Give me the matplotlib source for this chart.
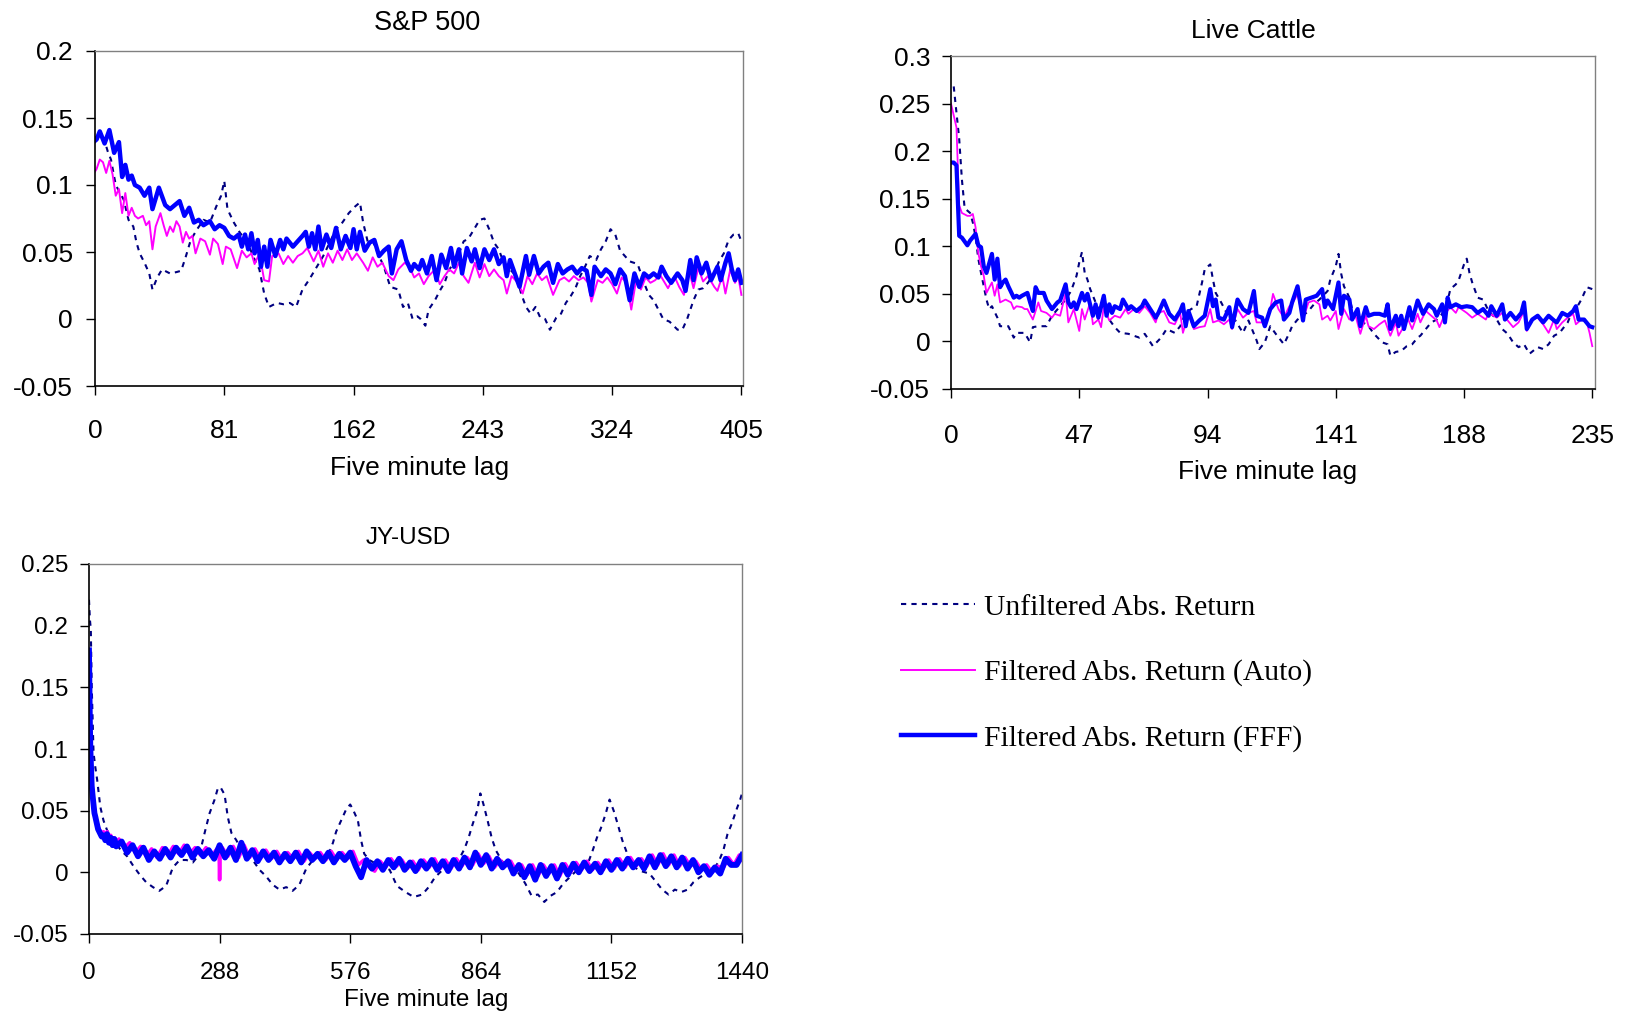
import numpy as np
import matplotlib
matplotlib.use("Agg")
import matplotlib.pyplot as plt

plt.rcParams['font.family'] = ['Liberation Sans', 'DejaVu Sans']

# series labels
labels = ["Unfiltered Abs. Return", "Filtered Abs. Return (Auto)", "Filtered Abs. Return (FFF)"]

# ---- S&P 500 (lag, value) ----
sp_unf = [(0, .135), (3, .138), (6, .133), (8, .125), (10, .119), (13, .100), (18, .089), (21, .074),
          (24, .069), (26, .057), (28, .049), (31, .042), (34, .034), (36, .022), (39, .031), (42, .037),
          (47, .034), (51, .035), (54, .036), (57, .047), (60, .059), (64, .067), (68, .074), (72, .072),
          (76, .084), (79, .092), (81, .103), (83, .082), (87, .072), (91, .064), (95, .059), (99, .047),
          (103, .037), (106, .019), (109, .009), (114, .012), (118, .011), (122, .012), (126, .009),
          (130, .022), (134, .029), (139, .039), (143, .047), (147, .057), (151, .067), (155, .072),
          (159, .079), (163, .084), (166, .087), (168, .072), (171, .057), (174, .058), (178, .047),
          (181, .039), (185, .024), (190, .022), (193, .009), (196, .012), (199, .000), (202, .002),
          (204, .000), (207, -.005), (209, .007), (213, .014), (216, .021), (219, .027), (222, .037),
          (225, .042), (228, .049), (231, .058), (234, .060), (238, .068), (241, .074), (244, .075),
          (247, .067), (250, .057), (253, .052), (256, .042), (260, .037), (264, .032), (267, .019),
          (270, .009), (273, .004), (276, .009), (279, .001), (282, .000), (285, -.008), (289, .001),
          (292, .004), (295, .012), (298, .017), (301, .023), (304, .032), (307, .039), (310, .047),
          (314, .044), (317, .052), (320, .058), (323, .067), (326, .063), (329, .051), (332, .047),
          (335, .043), (340, .041), (344, .027), (347, .018), (350, .014), (353, .007), (356, .000),
          (360, -.002), (365, -.008), (368, -.008), (371, .000), (373, .007), (375, .014), (378, .022),
          (381, .023), (384, .027), (388, .034), (391, .043), (394, .049), (397, .059), (400, .063),
          (403, .064), (405, .058)]

sp_auto = [(0, .110), (1, .112), (3, .119), (5, .117), (7, .109), (9, .118), (11, .108), (13, .092),
           (15, .097), (17, .079), (19, .094), (21, .077), (23, .083), (25, .077), (27, .075), (30, .077),
           (32, .070), (34, .073), (36, .052), (38, .069), (41, .079), (43, .070), (45, .062), (47, .069),
           (49, .065), (51, .073), (53, .069), (55, .057), (57, .065), (59, .060), (61, .062), (63, .049),
           (66, .060), (69, .058), (72, .048), (74, .060), (77, .056), (80, .041), (82, .054), (85, .052),
           (89, .038), (92, .051), (95, .046), (98, .049), (100, .041), (103, .049), (106, .029),
           (109, .028), (111, .047), (115, .049), (118, .041), (121, .047), (124, .042), (127, .047),
           (130, .049), (133, .053), (137, .043), (140, .051), (143, .039), (146, .049), (149, .042),
           (152, .051), (155, .044), (158, .052), (161, .044), (164, .049), (168, .042), (171, .036),
           (174, .046), (177, .039), (180, .042), (184, .032), (187, .029), (190, .037), (194, .042),
           (197, .039), (200, .031), (203, .034), (206, .026), (209, .032), (213, .037), (216, .026),
           (219, .032), (222, .037), (225, .034), (228, .042), (231, .032), (234, .027), (238, .042),
           (241, .031), (244, .041), (247, .032), (250, .037), (253, .032), (256, .029), (258, .019),
           (261, .032), (265, .027), (268, .019), (271, .032), (274, .026), (277, .034), (280, .029),
           (283, .032), (287, .018), (291, .029), (294, .031), (297, .028), (300, .032), (303, .029),
           (306, .031), (309, .027), (311, .013), (315, .029), (318, .027), (321, .031), (324, .026),
           (327, .019), (330, .031), (333, .027), (336, .007), (339, .029), (342, .022), (345, .031),
           (348, .027), (351, .029), (354, .033), (357, .027), (359, .023), (363, .032), (366, .024),
           (369, .018), (372, .037), (375, .023), (378, .038), (381, .028), (384, .032), (388, .024),
           (390, .021), (393, .032), (395, .019), (398, .037), (401, .027), (403, .032), (405, .018)]

sp_fff = [(0, .133), (1, .134), (3, .140), (6, .131), (9, .141), (12, .124), (15, .132), (17, .106),
          (19, .115), (21, .104), (23, .107), (25, .100), (28, .098), (31, .092), (34, .098), (36, .082),
          (40, .098), (44, .085), (47, .082), (50, .085), (53, .088), (56, .077), (59, .083), (62, .072),
          (65, .074), (68, .070), (72, .073), (75, .067), (78, .070), (81, .068), (84, .062), (87, .060),
          (90, .063), (92, .054), (94, .063), (96, .052), (98, .064), (100, .049), (102, .059),
          (104, .039), (106, .054), (108, .039), (110, .059), (113, .047), (116, .059), (118, .052),
          (120, .060), (124, .054), (127, .058), (130, .062), (132, .065), (134, .054), (136, .064),
          (138, .052), (140, .069), (142, .052), (145, .063), (148, .053), (151, .068), (154, .052),
          (157, .062), (160, .053), (162, .067), (164, .052), (166, .065), (169, .051), (172, .057),
          (175, .059), (178, .047), (181, .051), (184, .054), (186, .034), (189, .052), (192, .058),
          (195, .044), (198, .036), (200, .041), (203, .037), (205, .044), (208, .034), (211, .047),
          (214, .029), (217, .048), (220, .038), (223, .053), (225, .039), (228, .052), (230, .034),
          (233, .053), (236, .043), (238, .052), (241, .038), (244, .052), (247, .044), (250, .052),
          (253, .041), (256, .046), (258, .032), (260, .044), (263, .034), (266, .024), (270, .047),
          (272, .033), (275, .047), (278, .034), (281, .039), (284, .042), (287, .027), (290, .041),
          (293, .034), (296, .037), (299, .039), (302, .034), (305, .038), (308, .036), (311, .018),
          (313, .039), (317, .032), (320, .037), (323, .034), (326, .026), (329, .037), (332, .032),
          (335, .014), (338, .034), (341, .024), (344, .034), (347, .031), (350, .034), (353, .031),
          (355, .039), (358, .032), (361, .027), (365, .034), (368, .029), (370, .021), (373, .044),
          (375, .029), (377, .046), (380, .034), (383, .042), (386, .029), (390, .039), (392, .029),
          (395, .042), (397, .049), (399, .037), (401, .029), (403, .037), (405, .027)]

# ---- Live Cattle ----
lc_unf = [(1, .268), (2, .241), (3, .213), (4, .170), (5, .140), (7, .135), (8, .125), (9, .110),
          (10, .087), (11, .072), (12, .058), (13, .044), (14, .034), (15, .037), (17, .025), (18, .016),
          (21, .016), (23, .004), (24, .009), (27, .009), (29, -.001), (30, .015), (32, .016), (35, .016),
          (37, .027), (40, .037), (42, .044), (44, .053), (46, .069), (47, .083), (48, .094), (49, .072),
          (50, .065), (51, .055), (52, .048), (54, .034), (56, .034), (58, .023), (60, .015), (62, .009),
          (65, .008), (67, .006), (69, .004), (71, .008), (74, -.005), (77, .004), (79, .013), (82, .009),
          (84, .016), (86, .030), (88, .034), (90, .037), (92, .062), (93, .076), (95, .081), (96, .065),
          (97, .051), (99, .041), (101, .030), (102, .027), (104, .023), (107, .009), (109, .022),
          (112, .001), (113, -.008), (115, -.001), (117, .016), (119, .008), (122, -.003), (124, .009),
          (125, .016), (127, .023), (129, .027), (131, .032), (133, .039), (135, .044), (138, .053),
          (139, .065), (141, .079), (142, .092), (143, .071), (144, .058), (146, .046), (147, .034),
          (149, .027), (151, .020), (153, .016), (155, .008), (158, -.001), (160, -.003), (161, -.015),
          (163, -.011), (165, -.010), (167, -.005), (169, -.003), (171, .004), (172, .006), (174, .013),
          (176, .020), (178, .023), (180, .029), (182, .043), (183, .055), (185, .060), (186, .064),
          (188, .081), (189, .087), (190, .072), (191, .062), (193, .046), (195, .044), (197, .032),
          (200, .023), (202, .013), (204, .008), (206, -.001), (208, -.006), (210, -.003), (212, -.013),
          (215, -.006), (217, -.008), (219, -.003), (221, .006), (223, .009), (226, .020), (227, .027),
          (229, .034), (231, .044), (233, .057), (235, .055)]

lc_auto = [(0, .250), (2, .225), (3, .143), (4, .135), (6, .132), (7, .132), (8, .134), (9, .120),
           (10, .093), (11, .079), (12, .069), (13, .051), (15, .062), (16, .048), (17, .060), (18, .041),
           (20, .044), (22, .041), (23, .034), (24, .037), (26, .036), (27, .034), (28, .034), (30, .023),
           (32, .041), (33, .032), (35, .030), (37, .025), (38, .029), (40, .027), (42, .051), (43, .020),
           (45, .034), (47, .011), (48, .034), (49, .023), (51, .041), (52, .018), (54, .023), (55, .015),
           (56, .037), (58, .022), (60, .027), (62, .025), (64, .034), (65, .029), (67, .034), (69, .030),
           (71, .037), (73, .030), (75, .020), (76, .030), (78, .032), (80, .020), (82, .018), (84, .030),
           (85, .009), (87, .029), (89, .013), (91, .015), (93, .016), (95, .034), (96, .020), (98, .022),
           (100, .018), (102, .023), (103, .013), (105, .034), (107, .025), (109, .030), (111, .032),
           (112, .020), (114, .020), (116, .023), (117, .034), (118, .050), (120, .034), (122, .025),
           (124, .037), (125, .039), (127, .050), (129, .023), (131, .041), (133, .043), (135, .039),
           (136, .023), (138, .027), (139, .022), (141, .032), (142, .013), (144, .034), (146, .023),
           (148, .030), (150, .008), (152, .027), (153, .016), (155, .013), (157, .018), (159, .022),
           (161, .006), (163, .020), (164, .006), (166, .016), (167, .027), (169, .013), (171, .029),
           (172, .020), (174, .032), (176, .027), (178, .022), (179, .015), (181, .029), (183, .036),
           (185, .030), (186, .036), (189, .030), (191, .025), (193, .029), (196, .023), (197, .030),
           (200, .025), (202, .030), (204, .022), (206, .015), (208, .020), (210, .032), (211, .011),
           (213, .023), (215, .025), (217, .018), (219, .009), (221, .023), (222, .013), (224, .020),
           (226, .025), (228, .029), (229, .018), (231, .023), (233, .020), (234, .009), (235, -.005)]

lc_fff = [(0, .188), (1, .188), (2, .185), (3, .111), (4, .109), (6, .101), (7, .106), (9, .113),
          (10, .101), (11, .099), (12, .079), (13, .072), (15, .092), (16, .065), (17, .087), (18, .057),
          (19, .062), (20, .065), (21, .058), (23, .046), (24, .048), (25, .046), (26, .048), (28, .051),
          (29, .041), (30, .032), (31, .057), (32, .051), (34, .051), (35, .043), (37, .034), (39, .041),
          (40, .043), (42, .060), (43, .041), (44, .036), (45, .041), (46, .034), (48, .051), (49, .043),
          (50, .050), (52, .027), (53, .039), (54, .025), (56, .048), (57, .027), (58, .039), (59, .030),
          (60, .037), (62, .034), (63, .044), (65, .034), (66, .037), (68, .032), (70, .037), (71, .043),
          (73, .034), (75, .025), (76, .030), (78, .043), (80, .029), (82, .023), (84, .032), (85, .039),
          (86, .016), (87, .032), (89, .016), (91, .022), (93, .027), (95, .055), (96, .037), (97, .044),
          (98, .025), (100, .023), (102, .036), (103, .015), (105, .044), (107, .034), (109, .030),
          (111, .053), (112, .027), (114, .025), (115, .016), (117, .034), (119, .041), (121, .043),
          (122, .023), (124, .030), (125, .041), (127, .058), (129, .022), (130, .044), (132, .046),
          (134, .048), (136, .055), (137, .036), (138, .043), (140, .034), (142, .062), (143, .029),
          (144, .048), (146, .044), (147, .023), (149, .034), (150, .016), (152, .036), (153, .027),
          (155, .029), (157, .029), (159, .027), (160, .039), (161, .013), (163, .027), (164, .016),
          (165, .027), (166, .013), (168, .036), (169, .022), (171, .043), (173, .029), (175, .039),
          (177, .034), (178, .027), (180, .039), (181, .020), (182, .046), (183, .036), (185, .039),
          (187, .036), (189, .037), (191, .036), (193, .030), (195, .034), (197, .027), (198, .037),
          (200, .027), (202, .039), (203, .023), (205, .030), (207, .023), (209, .030), (210, .041),
          (211, .013), (213, .023), (215, .027), (217, .020), (219, .027), (221, .022), (222, .020),
          (224, .030), (226, .027), (228, .032), (229, .037), (230, .023), (232, .023), (234, .016),
          (235, .015)]

# ---- JY-USD ----
jy_unf = [(0, .221), (2, .205), (4, .197), (6, .151), (10, .097), (14, .085), (18, .075), (25, .053),
          (32, .042), (40, .034), (55, .026), (70, .018), (84, .013), (98, .005), (112, -.002),
          (126, -.008), (141, -.012), (155, -.015), (170, -.011), (177, -.004), (185, .004), (200, .010),
          (215, .010), (229, .008), (244, .015), (255, .032), (266, .048), (277, .059), (284, .068),
          (290, .069), (299, .063), (306, .045), (314, .032), (325, .026), (336, .018), (347, .015),
          (361, .010), (376, .002), (390, -.003), (405, -.010), (420, -.014), (435, -.012), (449, -.015),
          (464, -.010), (479, .003), (494, .010), (508, .015), (523, .010), (538, .024), (545, .033),
          (556, .042), (567, .051), (576, .055), (582, .051), (593, .042), (600, .026), (607, .015),
          (618, .010), (633, .007), (648, .005), (663, .002), (679, -.011), (698, -.016), (716, -.020),
          (735, -.018), (749, -.012), (763, -.004), (777, .001), (791, .004), (805, .007), (818, .012),
          (828, .019), (837, .028), (846, .039), (856, .050), (863, .064), (870, .055), (879, .042),
          (888, .028), (897, .018), (911, .009), (930, .004), (948, -.001), (962, -.009), (976, -.019),
          (990, -.018), (1004, -.024), (1018, -.019), (1032, -.016), (1046, -.009), (1060, -.004),
          (1074, .001), (1088, .004), (1102, .009), (1111, .018), (1120, .028), (1129, .036),
          (1139, .047), (1148, .059), (1157, .050), (1166, .039), (1176, .026), (1190, .012),
          (1203, .004), (1217, .001), (1236, -.001), (1249, -.007), (1264, -.014), (1278, -.018),
          (1292, -.014), (1306, -.016), (1320, -.014), (1333, -.008), (1347, -.004), (1361, -.001),
          (1375, .001), (1389, .009), (1399, .018), (1408, .031), (1417, .039), (1427, .050),
          (1436, .059), (1440, .064)]

jy_auto = [(0, .178), (1, .150), (2, .122), (3, .102), (4, .088), (5, .078), (6, .070), (8, .060),
           (10, .054), (12, .050), (14, .046), (17, .041), (20, .037), (24, .034), (28, .031), (32, .033),
           (36, .029), (40, .033), (44, .027), (48, .030), (52, .025), (56, .028), (60, .024), (66, .027),
           (78, .020), (90, .024), (102, .016), (114, .021), (126, .013), (138, .019), (150, .012),
           (162, .020), (174, .014), (186, .021), (198, .015), (210, .022), (222, .015), (234, .020),
           (246, .014), (258, .020), (270, .013), (282, .019), (287, .016), (288, -.006), (289, .015),
           (294, .020), (306, .013), (318, .021), (330, .012), (342, .022), (354, .012), (366, .019),
           (378, .011), (390, .018), (402, .011), (414, .017), (426, .010), (438, .016), (450, .011),
           (462, .017), (474, .009), (486, .016), (498, .011), (510, .016), (522, .010), (534, .017),
           (546, .010), (558, .016), (570, .011), (582, .017), (594, .006), (606, .010), (618, .004),
           (630, .001), (642, .009), (654, .004), (666, .011), (678, .005), (690, .010), (702, .003),
           (714, .009), (726, .002), (738, .010), (750, .004), (762, .011), (774, .003), (786, .010),
           (798, .003), (810, .011), (822, .005), (834, .012), (846, .006), (858, .015), (870, .007),
           (882, .013), (894, .004), (906, .010), (918, .005), (930, .009), (942, .001), (954, .006),
           (966, -.002), (978, .006), (990, -.003), (1002, .006), (1014, -.001), (1026, .006),
           (1038, -.003), (1050, .007), (1062, .000), (1074, .008), (1086, .002), (1098, .009),
           (1110, .002), (1122, .008), (1134, .002), (1146, .010), (1158, .003), (1170, .011),
           (1182, .004), (1194, .012), (1206, .005), (1218, .011), (1230, .005), (1242, .014),
           (1254, .006), (1266, .015), (1278, .006), (1290, .014), (1302, .005), (1314, .012),
           (1326, .005), (1338, .009), (1350, .002), (1362, .006), (1374, .000), (1386, .005),
           (1398, .003), (1410, .012), (1422, .006), (1434, .014), (1440, .010)]

jy_fff = [(0, .180), (1, .150), (2, .120), (3, .100), (4, .090), (5, .080), (6, .070), (8, .062),
          (10, .055), (12, .048), (14, .045), (17, .040), (20, .035), (24, .032), (28, .029), (32, .030),
          (36, .026), (40, .031), (44, .024), (48, .028), (52, .022), (56, .027), (60, .021), (72, .025),
          (84, .016), (96, .022), (108, .013), (120, .020), (132, .010), (144, .017), (156, .011),
          (168, .019), (180, .012), (192, .020), (204, .014), (216, .021), (228, .012), (240, .019),
          (252, .013), (264, .018), (276, .011), (288, .022), (300, .012), (312, .020), (324, .010),
          (336, .024), (348, .011), (360, .018), (372, .009), (384, .017), (396, .010), (408, .016),
          (420, .008), (432, .015), (444, .009), (456, .016), (468, .008), (480, .017), (492, .010),
          (504, .015), (516, .009), (528, .016), (540, .008), (552, .015), (564, .010), (576, .016),
          (588, .005), (600, -.004), (612, .010), (624, .003), (636, .009), (648, .002), (660, .010),
          (672, .004), (684, .011), (696, .002), (708, .008), (720, .001), (732, .009), (744, .003),
          (756, .010), (768, .002), (780, .009), (792, .001), (804, .010), (816, .003), (828, .012),
          (840, .004), (852, .016), (864, .006), (876, .014), (888, .003), (900, .011), (912, .004),
          (924, .009), (936, -.001), (948, .006), (960, -.004), (972, .005), (984, -.006), (996, .006),
          (1008, -.003), (1020, .005), (1032, -.005), (1044, .006), (1056, -.002), (1068, .007),
          (1080, .000), (1092, .008), (1104, .001), (1116, .007), (1128, .000), (1140, .009),
          (1152, .002), (1164, .010), (1176, .003), (1188, .011), (1200, .004), (1212, .010),
          (1224, .003), (1236, .013), (1248, .004), (1260, .014), (1272, .005), (1284, .013),
          (1296, .004), (1308, .012), (1320, .003), (1332, .010), (1344, .000), (1356, .005),
          (1368, -.002), (1380, .004), (1392, -.001), (1404, .011), (1416, .006), (1428, .006),
          (1440, .014)]

# axis ticks
sp_xticks = [0, 81, 162, 243, 324, 405]
sp_yticks = [-0.05, 0, 0.05, 0.1, 0.15, 0.2]
sp_ylabels = ["-0.05", "0", "0.05", "0.1", "0.15", "0.2"]
lc_xticks = [0, 47, 94, 141, 188, 235]
lc_yticks = [-0.05, 0, 0.05, 0.1, 0.15, 0.2, 0.25, 0.3]
lc_ylabels = ["-0.05", "0", "0.05", "0.1", "0.15", "0.2", "0.25", "0.3"]
jy_xticks = [0, 288, 576, 864, 1152, 1440]
jy_yticks = [-0.05, 0, 0.05, 0.1, 0.15, 0.2, 0.25]
jy_ylabels = ["-0.05", "0", "0.05", "0.1", "0.15", "0.2", "0.25"]

W, H = 1627, 1011
fig = plt.figure(figsize=(W / 100, H / 100), dpi=100)


def px_axes(left, top, right, bottom):
    return fig.add_axes([left / W, 1 - bottom / H, (right - left) / W, (bottom - top) / H])


def draw(ax, unf, auto, fff, lw_auto, lw_fff, fs):
    x, y = np.array(unf).T
    ax.plot(x, y, color="#000080", lw=1.5, ls=(0, (2.5, 2.5)), label=labels[0])
    x, y = np.array(auto).T
    ax.plot(x, y, color="#ff00ff", lw=lw_auto, label=labels[1])
    x, y = np.array(fff).T
    ax.plot(x, y, color="#0000ff", lw=lw_fff, label=labels[2])
    for s in ["top", "right"]:
        ax.spines[s].set_color("#808080")
        ax.spines[s].set_linewidth(1.0)
    for s in ["left", "bottom"]:
        ax.spines[s].set_color("black")
        ax.spines[s].set_linewidth(1.2)
    ax.tick_params(direction="out", length=6.5, width=1, labelsize=fs)


# S&P 500
ax1 = px_axes(95, 51, 743, 386)
draw(ax1, sp_unf, sp_auto, sp_fff, 1.4, 3.2, 19)
ax1.set_xlim(0, 406)
ax1.set_ylim(-0.05, 0.2)
ax1.set_xticks(sp_xticks)
ax1.set_yticks(sp_yticks, sp_ylabels)
ax1.tick_params(axis="y", pad=9.5)
ax1.tick_params(axis="x", pad=17)
ax1.set_title("S&P 500", fontsize=19.5, x=0.512, y=1.084, va="center", pad=0)
ax1.set_xlabel("Five minute lag", fontsize=19)
ax1.xaxis.set_label_coords(0.5015, -0.246)
ax1.xaxis.label.set_va("center")

# Live Cattle
ax2 = px_axes(951, 56, 1595, 389)
draw(ax2, lc_unf, lc_auto, lc_fff, 1.3, 3.0, 19)
ax2.set_xlim(0, 236)
ax2.set_ylim(-0.05, 0.3)
ax2.set_xticks(lc_xticks)
ax2.set_yticks(lc_yticks, lc_ylabels)
ax2.tick_params(axis="y", pad=8.5)
ax2.tick_params(axis="x", pad=18.5)
ax2.set_title("Live Cattle", fontsize=19, x=0.469, y=1.075, va="center", pad=0)
ax2.set_xlabel("Five minute lag", fontsize=19)
ax2.xaxis.set_label_coords(0.492, -0.249)
ax2.xaxis.label.set_va("center")

# JY-USD
ax3 = px_axes(89, 564, 742, 934)
draw(ax3, jy_unf, jy_auto, jy_fff, 2.6, 4.2, 17.5)
ax3.set_xlim(0, 1440)
ax3.set_ylim(-0.05, 0.25)
ax3.set_xticks(jy_xticks)
ax3.set_yticks(jy_yticks, jy_ylabels)
ax3.tick_params(axis="y", pad=8.5)
ax3.tick_params(axis="x", pad=13.5)
ax3.set_title("JY-USD", fontsize=17.5, x=0.489, y=1.071, va="center", pad=0)
ax3.set_xlabel("Five minute lag", fontsize=17.5)
ax3.xaxis.set_label_coords(0.517, -0.179)
ax3.xaxis.label.set_va("center")

# legend in the empty bottom-right corner
handles, _ = ax1.get_legend_handles_labels()
fig.legend(handles, labels, loc="upper left", bbox_to_anchor=(901 / W, 1 - 594 / H),
           frameon=False, prop={"family": "Liberation Serif", "size": 21.3},
           handlelength=2.5, handletextpad=0.3, labelspacing=1.3,
           borderpad=0, borderaxespad=0)

fig.savefig("out.png", dpi=100)
